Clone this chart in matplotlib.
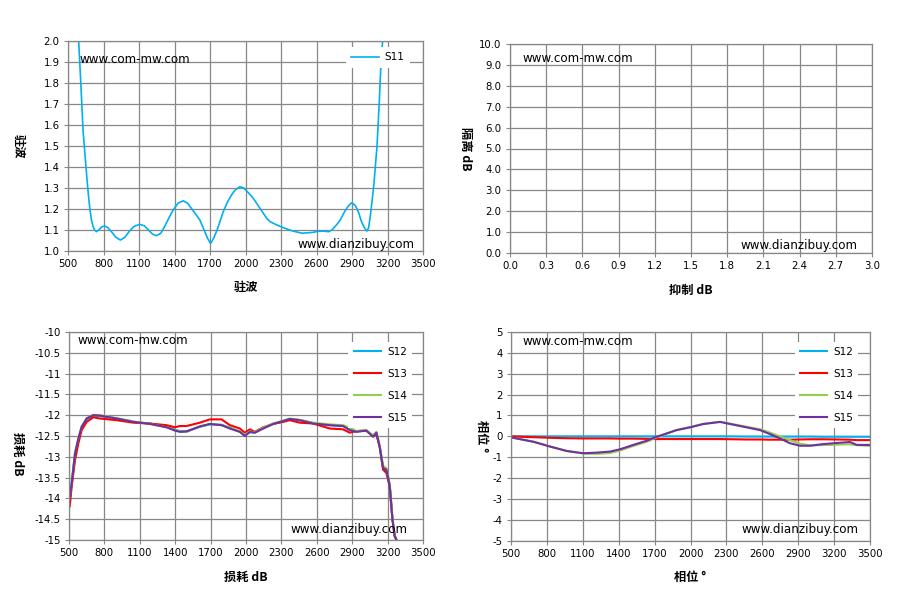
import numpy as np
import matplotlib
matplotlib.use('Agg')
import matplotlib.pyplot as plt

CJK = ['Noto Sans CJK SC', 'DejaVu Sans']
GRID = '#878787'

# --- data ---
s11_f = [560, 590, 610, 627, 645, 661, 672, 683, 697, 712, 725, 740, 760, 785, 810, 835, 870,
         905, 943, 980, 1020, 1060, 1107, 1145, 1180, 1215, 1248, 1285, 1320, 1355, 1389, 1430,
         1474, 1510, 1540, 1580, 1615, 1650, 1680, 1705, 1730, 1760, 1790, 1812, 1845, 1880,
         1915, 1954, 1985, 2020, 2060, 2095, 2150, 2180, 2208, 2260, 2320, 2400, 2476, 2560,
         2631, 2670, 2702, 2730, 2770, 2800, 2840, 2870, 2899, 2930, 2955, 2980, 3005, 3026,
         3040, 3054, 3068, 3083, 3097, 3111, 3130, 3147, 3159, 3165]
s11_v = [2.3, 2.0, 1.78, 1.575, 1.45, 1.338, 1.27, 1.21, 1.15, 1.116, 1.1, 1.092, 1.1, 1.115,
         1.119, 1.112, 1.09, 1.065, 1.052, 1.065, 1.095, 1.118, 1.127, 1.12, 1.1, 1.08, 1.073,
         1.085, 1.12, 1.16, 1.195, 1.228, 1.239, 1.228, 1.205, 1.175, 1.147, 1.1, 1.06, 1.036,
         1.06, 1.1, 1.15, 1.187, 1.23, 1.265, 1.292, 1.306, 1.3, 1.28, 1.255, 1.227, 1.18,
         1.155, 1.14, 1.125, 1.111, 1.095, 1.085, 1.088, 1.095, 1.094, 1.092, 1.1, 1.125,
         1.147, 1.19, 1.215, 1.23, 1.215, 1.185, 1.14, 1.11, 1.095, 1.11, 1.163, 1.23, 1.306,
         1.4, 1.496, 1.702, 1.924, 2.0, 2.1]

loss_f = [506, 523, 551, 579, 607, 650, 706, 762, 904, 1045, 1186, 1327, 1398, 1440, 1496,
          1609, 1694, 1793, 1863, 1948, 1990, 2033, 2075, 2146, 2230, 2315, 2371, 2456, 2569,
          2710, 2823, 2879, 2936, 3020, 3077, 3105, 3133, 3162, 3190, 3218, 3241, 3260, 3280]
s12_loss = [-14.02, -13.64, -12.94, -12.58, -12.3, -12.09, -12.01, -12.02, -12.08, -12.16,
            -12.2, -12.28, -12.35, -12.38, -12.39, -12.28, -12.22, -12.23, -12.3, -12.4, -12.48,
            -12.41, -12.42, -12.31, -12.21, -12.15, -12.1, -12.12, -12.19, -12.24, -12.26,
            -12.34, -12.39, -12.37, -12.5, -12.43, -12.75, -13.28, -13.32, -13.68, -14.48,
            -14.9, -15.03]
s13_loss = [-14.19, -13.71, -13.08, -12.68, -12.36, -12.16, -12.05, -12.08, -12.12, -12.18,
            -12.2, -12.24, -12.29, -12.26, -12.26, -12.18, -12.1, -12.1, -12.24, -12.32,
            -12.42, -12.34, -12.4, -12.29, -12.21, -12.16, -12.12, -12.18, -12.2, -12.32,
            -12.34, -12.42, -12.38, -12.37, -12.5, -12.46, -12.76, -13.31, -13.39, -13.71,
            -14.51, -14.91, -15.03]
s14_loss = [-13.98, -13.6, -12.9, -12.56, -12.27, -12.07, -11.99, -12.0, -12.07, -12.15,
            -12.21, -12.29, -12.36, -12.39, -12.4, -12.27, -12.21, -12.24, -12.31, -12.39,
            -12.47, -12.39, -12.41, -12.3, -12.2, -12.13, -12.08, -12.11, -12.18, -12.22,
            -12.24, -12.3, -12.38, -12.36, -12.48, -12.4, -12.72, -13.22, -13.27, -13.66,
            -14.46, -14.88, -15.02]
s15_loss = [-14.0, -13.63, -12.92, -12.57, -12.28, -12.08, -12.0, -12.01, -12.08, -12.16,
            -12.21, -12.29, -12.37, -12.4, -12.39, -12.27, -12.21, -12.24, -12.32, -12.4,
            -12.5, -12.4, -12.42, -12.32, -12.21, -12.14, -12.09, -12.12, -12.2, -12.24,
            -12.26, -12.36, -12.4, -12.37, -12.52, -12.42, -12.76, -13.27, -13.31, -13.7,
            -14.5, -14.9, -15.03]

ph_f = [500, 687, 826, 965, 1104, 1216, 1327, 1411, 1522, 1634, 1717, 1801, 1884, 1996, 2107,
        2247, 2358, 2469, 2581, 2664, 2748, 2831, 2915, 2999, 3110, 3221, 3333, 3389, 3500]
s12_ph = [0.0, 0.0, 0.0, 0.0, 0.0, 0.0, 0.0, 0.0, 0.0, 0.0, 0.0, 0.0, 0.0, 0.0, 0.0,
          0.0, 0.0, -0.01, -0.01, -0.01, -0.01, -0.01, -0.01, -0.01, -0.02, -0.02, -0.02,
          -0.02, -0.02]
s13_ph = [0.0, -0.04, -0.07, -0.09, -0.1, -0.1, -0.1, -0.11, -0.11, -0.12, -0.13, -0.13,
          -0.13, -0.13, -0.13, -0.13, -0.14, -0.15, -0.15, -0.16, -0.16, -0.16, -0.15,
          -0.14, -0.14, -0.15, -0.16, -0.18, -0.18]
s14_ph = [-0.05, -0.25, -0.48, -0.7, -0.83, -0.84, -0.8, -0.68, -0.46, -0.26, -0.05, 0.13,
          0.3, 0.45, 0.6, 0.7, 0.58, 0.46, 0.34, 0.18, 0.0, -0.18, -0.35, -0.43, -0.42,
          -0.4, -0.38, -0.42, -0.46]
s15_ph = [-0.05, -0.26, -0.49, -0.7, -0.81, -0.78, -0.73, -0.62, -0.41, -0.21, -0.02, 0.14,
          0.3, 0.43, 0.59, 0.69, 0.56, 0.43, 0.3, 0.11, -0.1, -0.33, -0.45, -0.45, -0.37,
          -0.32, -0.27, -0.41, -0.41]

colors = {'S11': '#00B0F0', 'S12': '#00B0F0', 'S13': '#FF0000', 'S14': '#92D050', 'S15': '#7030A0'}


def style_axes(ax, xticks, yticks, yfmt, xlabel, ylabel, ylab_pos, xlab_y):
    ax.set_xlim(xticks[0], xticks[-1])
    ax.set_ylim(yticks[0], yticks[-1])
    ax.set_xticks(xticks)
    ax.set_yticks(yticks)
    ax.set_yticklabels([yfmt.format(v) for v in yticks])
    ax.grid(True, color=GRID, linewidth=0.9)
    ax.set_axisbelow(True)
    for s in ax.spines.values():
        s.set_color(GRID)
        s.set_linewidth(0.9)
    ax.tick_params(direction='out', length=3, width=0.8, color=GRID, labelsize=7.3, pad=3)
    ax.set_xlabel(xlabel, fontsize=8.8, fontweight='bold', family=CJK)
    ax.set_ylabel(ylabel, fontsize=8.8, fontweight='bold', family=CJK, rotation=270)
    ax.xaxis.set_label_coords(0.5, xlab_y)
    ax.xaxis.label.set_va('center')
    ax.yaxis.set_label_coords(*ylab_pos)
    ax.yaxis.label.set_va('center')


def watermark(ax, top_xy, bot_xy):
    ax.text(top_xy[0], top_xy[1], 'www.com-mw.com', transform=ax.transAxes, fontsize=8.6,
            ha='left', va='center')
    ax.text(bot_xy[0], bot_xy[1], 'www.dianzibuy.com', transform=ax.transAxes, fontsize=8.6,
            ha='right', va='center')


def legend(ax, anchor, spacing):
    ax.legend(loc='upper right', bbox_to_anchor=anchor, borderaxespad=0, frameon=True,
              facecolor='white', edgecolor='none', fancybox=False, framealpha=1,
              fontsize=7.5, handlelength=2.6, handletextpad=0.6, labelspacing=spacing,
              borderpad=0.5)


fig = plt.figure(figsize=(8.97, 6.05), dpi=100)
fig.patch.set_facecolor('white')

ax1 = fig.add_axes([68 / 897, 1 - 251 / 605, 355 / 897, 210 / 605])
ax2 = fig.add_axes([510 / 897, 1 - 253 / 605, 362 / 897, 209 / 605])
ax3 = fig.add_axes([69 / 897, 1 - 540 / 605, 354 / 897, 208 / 605])
ax4 = fig.add_axes([511 / 897, 1 - 540.7 / 605, 359 / 897, 208.7 / 605])

freq_ticks = np.arange(500, 3501, 300)

# VSWR
ax1.plot(s11_f, s11_v, color=colors['S11'], linewidth=1.2, label='S11')
style_axes(ax1, freq_ticks, np.round(np.arange(1.0, 2.01, 0.1), 1), '{:.1f}',
           '驻波', '驻波', (-0.141, 0.5), -0.176)
watermark(ax1, (0.031, 0.913), (0.977, 0.03))
legend(ax1, (0.963, 0.971), 0.5)

# empty isolation panel
style_axes(ax2, np.round(np.arange(0, 3.01, 0.3), 1), np.arange(0, 10.1, 1.0), '{:.1f}',
           '抑制 dB', '隔离 dB', (-0.124, 0.5), -0.177)
ax2.set_xticklabels(['{:.1f}'.format(v) for v in np.arange(0, 3.01, 0.3)])
watermark(ax2, (0.035, 0.93), (0.961, 0.035))

# insertion loss
for name, vals in [('S12', s12_loss), ('S13', s13_loss), ('S14', s14_loss), ('S15', s15_loss)]:
    ax3.plot(loss_f, vals, color=colors[name], linewidth=1.5, label=name)
style_axes(ax3, freq_ticks, np.arange(-15, -9.9, 0.5), '{:g}',
           '损耗 dB', '损耗 dB', (-0.146, 0.413), -0.179)
watermark(ax3, (0.025, 0.958), (0.955, 0.051))
legend(ax3, (0.969, 0.953), 1.15)

# phase
for name, vals in [('S12', s12_ph), ('S13', s13_ph), ('S14', s14_ph), ('S15', s15_ph)]:
    ax4.plot(ph_f, vals, color=colors[name], linewidth=1.5, label=name)
style_axes(ax4, freq_ticks, np.arange(-5, 5.1, 1), '{:g}',
           '相位 °', '相位 °', (-0.082, 0.5), -0.176)
watermark(ax4, (0.033, 0.953), (0.967, 0.055))
legend(ax4, (0.967, 0.953), 1.15)

plt.savefig('out.png', dpi=100)
